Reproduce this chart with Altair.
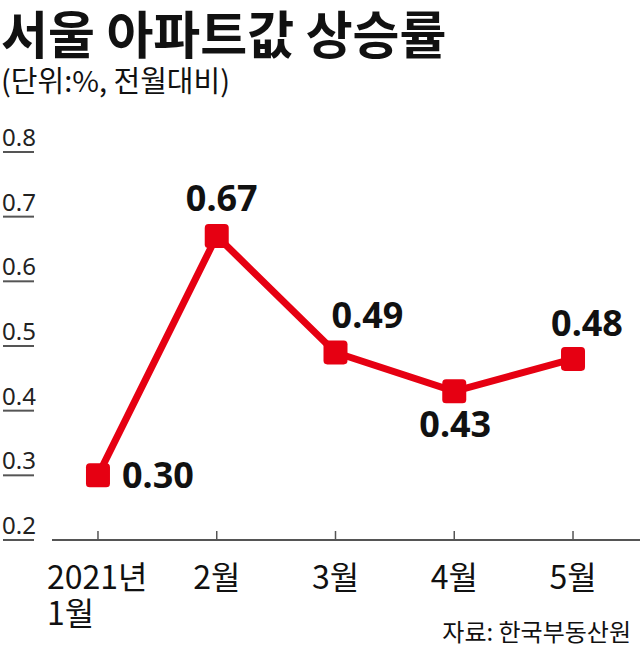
import altair as alt
import pandas as pd

# ---- data ----
months = ["2021년\n1월", "2월", "3월", "4월", "5월"]
values = [0.30, 0.67, 0.49, 0.43, 0.48]
value_labels = ["0.30", "0.67", "0.49", "0.43", "0.48"]
y_ticks = [0.2, 0.3, 0.4, 0.5, 0.6, 0.7, 0.8]
y_tick_labels = ["0.2", "0.3", "0.4", "0.5", "0.6", "0.7", "0.8"]
title_text = "서울 아파트값 상승률"
subtitle_text = "(단위:%, 전월대비)"
source_text = "자료: 한국부동산원"

df = pd.DataFrame({"i": list(range(len(months))), "month": months,
                   "value": values, "label": value_labels})
tick_df = pd.DataFrame({"value": y_ticks, "t": y_tick_labels})
base_df = pd.DataFrame({"value": [y_ticks[0]]})

RED = "#e60012"
FONT = "Noto Sans CJK KR"
W, H = 640, 648

xs = alt.Scale(domain=[-0.825, 4.564], nice=False, zero=False)
ys = alt.Scale(domain=[0.033, 1.035], nice=False, zero=False)
X = alt.X("i:Q", scale=xs, axis=None)
Y = alt.Y("value:Q", scale=ys, axis=None)

rounded_square = ("M -0.68 -1 L 0.68 -1 Q 1 -1 1 -0.68 L 1 0.68 Q 1 1 0.68 1 "
                  "L -0.68 1 Q -1 1 -1 0.68 L -1 -0.68 Q -1 -1 -0.68 -1 Z")

layers = []

# y tick labels + underlines
layers.append(alt.Chart(tick_df).mark_text(
    align="left", baseline="alphabetic", font="Noto Sans", fontSize=24, color="#222", dy=-6
).encode(x=alt.value(2), y=Y, text="t:N"))
layers.append(alt.Chart(tick_df).mark_rule(color="#555", strokeWidth=2).encode(
    x=alt.value(3), x2=alt.value(34), y=Y))

# x axis baseline and ticks
layers.append(alt.Chart(base_df).mark_rule(color="#555", strokeWidth=2).encode(
    x=alt.value(52), x2=alt.value(640), y=Y))
layers.append(alt.Chart(df).transform_calculate(base="0.2").mark_rule(
    color="#555", strokeWidth=1.5).encode(
    x=X, y=alt.Y("base:Q", scale=ys, axis=None), y2=alt.value(531)))

# x labels
layers.append(alt.Chart(df).transform_filter("datum.i == 0").mark_text(
    align="left", baseline="alphabetic", font=FONT, fontSize=32, color="#111",
    lineBreak="\n", lineHeight=36, dx=-51).encode(
    x=X, y=alt.value(589), text="month:N"))
layers.append(alt.Chart(df).transform_filter("datum.i > 0").mark_text(
    align="center", baseline="alphabetic", font=FONT, fontSize=32, color="#111").encode(
    x=X, y=alt.value(589), text="month:N"))

# line and markers
layers.append(alt.Chart(df).mark_line(color=RED, strokeWidth=7).encode(x=X, y=Y))
layers.append(alt.Chart(df).mark_point(
    shape=rounded_square, filled=True, size=576, color=RED, opacity=1).encode(x=X, y=Y))

# value labels (individual placement as in the original)
offsets = {0: ("left", 24, 13), 1: ("center", 5, -25), 2: ("center", 32, -24),
           3: ("center", 1, 46), 4: ("center", 14, -23)}
for idx, (al, dx, dy) in offsets.items():
    layers.append(alt.Chart(df).transform_filter(f"datum.i == {idx}").mark_text(
        align=al, baseline="alphabetic", font="Noto Sans", fontWeight="bold",
        fontSize=36, color="#111", dx=dx, dy=dy).encode(x=X, y=Y, text="label:N"))

# title, subtitle, source
one = pd.DataFrame({"k": [0]})
layers.append(alt.Chart(one).mark_text(
    text=title_text, align="left", baseline="alphabetic", font=FONT,
    fontWeight="bold", fontSize=51, color="#111").encode(x=alt.value(1), y=alt.value(54)))
layers.append(alt.Chart(one).mark_text(
    text=subtitle_text, align="left", baseline="alphabetic", font=FONT,
    fontSize=29, color="#111").encode(x=alt.value(1), y=alt.value(92)))
layers.append(alt.Chart(one).mark_text(
    text=source_text, align="right", baseline="alphabetic", font=FONT,
    fontSize=24, color="#111").encode(x=alt.value(631), y=alt.value(641)))

chart = alt.layer(*layers).properties(
    width=W, height=H, autosize=alt.AutoSizeParams(type="none"), padding=0,
    background="white"
).configure_view(stroke=None)

chart.save("out.html", embed_options={"renderer": "svg", "actions": False})
